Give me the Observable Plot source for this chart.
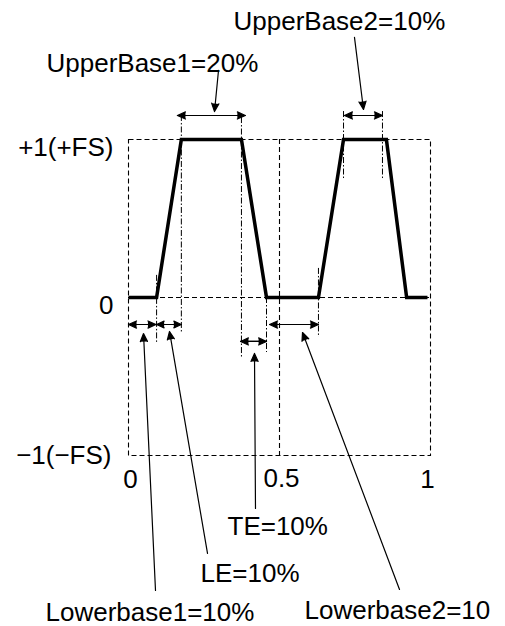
<!DOCTYPE html>
<html><head><meta charset="utf-8">
<script src="https://cdn.jsdelivr.net/npm/d3@7"></script>
<script src="https://cdn.jsdelivr.net/npm/@observablehq/plot@0.6"></script>
<style>html,body{margin:0;padding:0;background:#fff;} svg{display:block}</style>
</head><body><div id="chart"></div>
<script>
// Waveform: x = fraction of period, y = normalized level
const waveX = [0, 0.093, 0.175, 0.374, 0.457, 0.629, 0.712, 0.854, 0.921, 0.99];
const waveY = [0, 0, 1, 1, 0, 0, 1, 1, 0, 0];

// Tick values and labels
const yTickValues = [1, 0, -1];
const yTickLabels = ["+1(+FS)", "0", "−1(−FS)"];
const xTickValues = [0, 0.5, 1];
const xTickLabels = ["0", "0.5", "1"];

// Dash-dot guide lines
const guideX = [0.093, 0.175, 0.374, 0.457, 0.629, 0.712, 0.841];
const guideTop = [0.14, 1.152, 1.139, 0, 0.184, 1.177, 1.177];
const guideBottom = [-0.291, -0.228, -0.38, -0.348, -0.253, 0.741, 0.741];

// Double-headed dimension arrows
const dimStart = [0, 0.093, 0.371, 0.467, 0.162, 0.715];
const dimEnd = [0.091, 0.175, 0.457, 0.629, 0.387, 0.841];
const dimLevel = [-0.171, -0.171, -0.278, -0.171, 1.152, 1.152];

// Annotation labels
const noteText = ["UpperBase1=20%", "UpperBase2=10%", "TE=10%", "LE=10%", "Lowerbase1=10%", "Lowerbase2=10"];
const noteX = [-0.2715, 0.3477, 0.3278, 0.2384, -0.2748, 0.5828];
const noteY = [1.430, 1.690, -1.506, -1.802, -2.045, -2.032];
// Pointer lines (from label to target)
const ptrX1 = [0.298, 0.7483, 0.4205, 0.2616, 0.0894, 0.8974];
const ptrY1 = [1.437, 1.646, -1.335, -1.620, -1.854, -1.848];
const ptrX2 = [0.2848, 0.7781, 0.4172, 0.1358, 0.0497, 0.5762];
const ptrY2 = [1.177, 1.190, -0.354, -0.215, -0.228, -0.2215];

// layout offsets (px) for tick labels
const yTickDx = [-15, -15, -17];
const yTickDy = [16, 16, 8];
const xTickDx = [2, 2, -3];
const xTickDy = [32, 31, 32];

const wave = waveX.map((x, i) => ({x, y: waveY[i]}));
const guides = guideX.map((x, i) => ({x, y1: guideTop[i], y2: guideBottom[i]}));
const dims = dimStart.flatMap((s, i) => [
  {x1: s, x2: dimEnd[i], y: dimLevel[i]},
  {x1: dimEnd[i], x2: s, y: dimLevel[i]}
]);
const notes = noteText.map((t, i) => ({t, x: noteX[i], y: noteY[i]}));
const ptrs = ptrX1.map((x1, i) => ({x1, y1: ptrY1[i], x2: ptrX2[i], y2: ptrY2[i]}));

const headOpts = {headLength: 11, headAngle: 48, strokeWidth: 1.2, stroke: "black", fill: "black", insetStart: 0, insetEnd: 0};
const FS = 26;

const marks = [
  Plot.frame({stroke: "black", strokeWidth: 1.1, strokeDasharray: "5,3"}),
  Plot.ruleY([0], {stroke: "black", strokeWidth: 1.1, strokeDasharray: "5,3"}),
  Plot.ruleX([0.5], {stroke: "black", strokeWidth: 1.1, strokeDasharray: "5,3"}),
  Plot.ruleX(guides, {x: "x", y1: "y1", y2: "y2", stroke: "black", strokeWidth: 1, strokeDasharray: "6,2,1.5,2"}),
  Plot.line(wave, {x: "x", y: "y", stroke: "black", strokeWidth: 3.5, strokeLinejoin: "miter", strokeLinecap: "butt", strokeMiterlimit: 4}),
  Plot.arrow(dims, {x1: "x1", y1: "y", x2: "x2", y2: "y", ...headOpts}),
  Plot.arrow(ptrs, {x1: "x1", y1: "y1", x2: "x2", y2: "y2", ...headOpts}),
  Plot.text(notes, {x: "x", y: "y", text: "t", textAnchor: "start", lineAnchor: "bottom", fontSize: FS, fill: "black"})
];
yTickValues.forEach((v, i) => {
  marks.push(Plot.text([v], {x: () => 0, y: d => d, text: () => yTickLabels[i], textAnchor: "end", lineAnchor: "bottom", dx: yTickDx[i], dy: yTickDy[i], fontSize: FS, fill: "black"}));
});
xTickValues.forEach((v, i) => {
  marks.push(Plot.text([v], {x: d => d, y: () => -1, text: () => xTickLabels[i], textAnchor: "middle", lineAnchor: "bottom", dx: xTickDx[i], dy: xTickDy[i], fontSize: FS, fill: "black"}));
});

const chart = Plot.plot({
  width: 505,
  height: 626,
  marginLeft: 128,
  marginRight: 75,
  marginTop: 139,
  marginBottom: 171,
  x: {domain: [0, 1], axis: null},
  y: {domain: [-1, 1], axis: null},
  style: {fontFamily: "'Liberation Sans', Arial, sans-serif", background: "white", color: "black", overflow: "visible"},
  marks
});
document.getElementById("chart").appendChild(chart);
</script>
</body></html>
